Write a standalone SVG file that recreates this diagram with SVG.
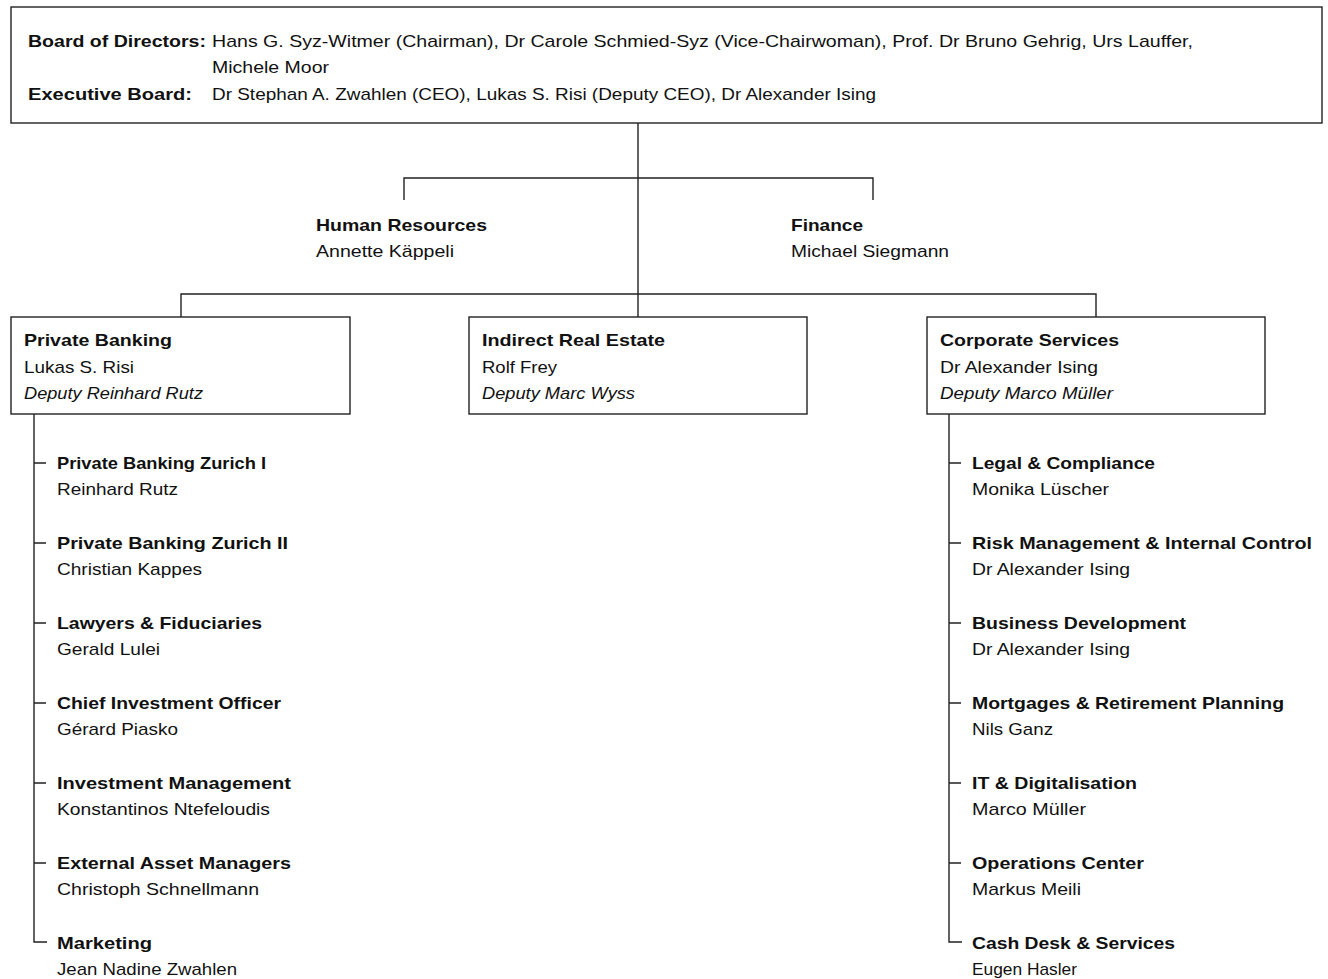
<svg xmlns="http://www.w3.org/2000/svg" width="1328" height="979" viewBox="0 0 1328 979">
<style>
text{font-family:"Liberation Sans",Arial,sans-serif;font-size:17px;fill:#111}
.b{font-weight:bold}
.i{font-style:italic}
.box{fill:#fff;stroke:#222;stroke-width:1.4}
.ln{fill:none;stroke:#222;stroke-width:1.4}
</style>
<rect width="1328" height="979" fill="#fff"/>
<g id="connectors">
<path class="ln" d="M638 123V317M404 200V178H873V200M181 317V294H1096V317"/>
<path class="ln" d="M34 414V942H47M34 463H46M34 543H46M34 623H46M34 703H46M34 783H46M34 863H46"/>
<path class="ln" d="M949 414V942H962M949 463H961M949 543H961M949 623H961M949 703H961M949 783H961M949 863H961"/>
</g>
<g id="board">
<rect class="box" x="11" y="7" width="1311" height="116"/>
<text class="b" x="28" y="47" textLength="178" lengthAdjust="spacingAndGlyphs">Board of Directors:</text>
<text x="212" y="47" textLength="981" lengthAdjust="spacingAndGlyphs">Hans G. Syz-Witmer (Chairman), Dr Carole Schmied-Syz (Vice-Chairwoman), Prof. Dr Bruno Gehrig, Urs Lauffer,</text>
<text x="212" y="73" textLength="117" lengthAdjust="spacingAndGlyphs">Michele Moor</text>
<text class="b" x="28" y="100" textLength="164" lengthAdjust="spacingAndGlyphs">Executive Board:</text>
<text x="212" y="100" textLength="664" lengthAdjust="spacingAndGlyphs">Dr Stephan A. Zwahlen (CEO), Lukas S. Risi (Deputy CEO), Dr Alexander Ising</text>
</g>
<g id="hr">
<text class="b" x="316" y="231" textLength="171" lengthAdjust="spacingAndGlyphs">Human Resources</text>
<text x="316" y="257" textLength="138" lengthAdjust="spacingAndGlyphs">Annette Käppeli</text>
</g>
<g id="finance">
<text class="b" x="791" y="231" textLength="72" lengthAdjust="spacingAndGlyphs">Finance</text>
<text x="791" y="257" textLength="158" lengthAdjust="spacingAndGlyphs">Michael Siegmann</text>
</g>
<g id="private-banking">
<rect class="box" x="11" y="317" width="339" height="97"/>
<text class="b" x="24" y="346" textLength="148" lengthAdjust="spacingAndGlyphs">Private Banking</text>
<text x="24" y="373" textLength="110" lengthAdjust="spacingAndGlyphs">Lukas S. Risi</text>
<text class="i" x="24" y="399" textLength="179" lengthAdjust="spacingAndGlyphs">Deputy Reinhard Rutz</text>
</g>
<g id="indirect-real-estate">
<rect class="box" x="469" y="317" width="338" height="97"/>
<text class="b" x="482" y="346" textLength="183" lengthAdjust="spacingAndGlyphs">Indirect Real Estate</text>
<text x="482" y="373" textLength="75" lengthAdjust="spacingAndGlyphs">Rolf Frey</text>
<text class="i" x="482" y="399" textLength="153" lengthAdjust="spacingAndGlyphs">Deputy Marc Wyss</text>
</g>
<g id="corporate-services">
<rect class="box" x="927" y="317" width="338" height="97"/>
<text class="b" x="940" y="346" textLength="179" lengthAdjust="spacingAndGlyphs">Corporate Services</text>
<text x="940" y="373" textLength="158" lengthAdjust="spacingAndGlyphs">Dr Alexander Ising</text>
<text class="i" x="940" y="399" textLength="173" lengthAdjust="spacingAndGlyphs">Deputy Marco Müller</text>
</g>
<g id="pb-zurich-1"><text class="b" x="57" y="469" textLength="209" lengthAdjust="spacingAndGlyphs">Private Banking Zurich I</text><text x="57" y="495" textLength="121" lengthAdjust="spacingAndGlyphs">Reinhard Rutz</text></g>
<g id="pb-zurich-2"><text class="b" x="57" y="549" textLength="231" lengthAdjust="spacingAndGlyphs">Private Banking Zurich II</text><text x="57" y="575" textLength="145" lengthAdjust="spacingAndGlyphs">Christian Kappes</text></g>
<g id="lawyers"><text class="b" x="57" y="629" textLength="205" lengthAdjust="spacingAndGlyphs">Lawyers &amp; Fiduciaries</text><text x="57" y="655" textLength="103" lengthAdjust="spacingAndGlyphs">Gerald Lulei</text></g>
<g id="cio"><text class="b" x="57" y="709" textLength="224" lengthAdjust="spacingAndGlyphs">Chief Investment Officer</text><text x="57" y="735" textLength="121" lengthAdjust="spacingAndGlyphs">Gérard Piasko</text></g>
<g id="investment-mgmt"><text class="b" x="57" y="789" textLength="234" lengthAdjust="spacingAndGlyphs">Investment Management</text><text x="57" y="815" textLength="213" lengthAdjust="spacingAndGlyphs">Konstantinos Ntefeloudis</text></g>
<g id="eam"><text class="b" x="57" y="869" textLength="234" lengthAdjust="spacingAndGlyphs">External Asset Managers</text><text x="57" y="895" textLength="202" lengthAdjust="spacingAndGlyphs">Christoph Schnellmann</text></g>
<g id="marketing"><text class="b" x="57" y="949" textLength="95" lengthAdjust="spacingAndGlyphs">Marketing</text><text x="57" y="975" textLength="180" lengthAdjust="spacingAndGlyphs">Jean Nadine Zwahlen</text></g>
<g id="legal"><text class="b" x="972" y="469" textLength="183" lengthAdjust="spacingAndGlyphs">Legal &amp; Compliance</text><text x="972" y="495" textLength="137" lengthAdjust="spacingAndGlyphs">Monika Lüscher</text></g>
<g id="risk"><text class="b" x="972" y="549" textLength="340" lengthAdjust="spacingAndGlyphs">Risk Management &amp; Internal Control</text><text x="972" y="575" textLength="158" lengthAdjust="spacingAndGlyphs">Dr Alexander Ising</text></g>
<g id="bizdev"><text class="b" x="972" y="629" textLength="214" lengthAdjust="spacingAndGlyphs">Business Development</text><text x="972" y="655" textLength="158" lengthAdjust="spacingAndGlyphs">Dr Alexander Ising</text></g>
<g id="mortgages"><text class="b" x="972" y="709" textLength="312" lengthAdjust="spacingAndGlyphs">Mortgages &amp; Retirement Planning</text><text x="972" y="735" textLength="81" lengthAdjust="spacingAndGlyphs">Nils Ganz</text></g>
<g id="it"><text class="b" x="972" y="789" textLength="165" lengthAdjust="spacingAndGlyphs">IT &amp; Digitalisation</text><text x="972" y="815" textLength="114" lengthAdjust="spacingAndGlyphs">Marco Müller</text></g>
<g id="operations"><text class="b" x="972" y="869" textLength="172" lengthAdjust="spacingAndGlyphs">Operations Center</text><text x="972" y="895" textLength="109" lengthAdjust="spacingAndGlyphs">Markus Meili</text></g>
<g id="cash-desk"><text class="b" x="972" y="949" textLength="203" lengthAdjust="spacingAndGlyphs">Cash Desk &amp; Services</text><text x="972" y="975" textLength="105" lengthAdjust="spacingAndGlyphs">Eugen Hasler</text></g>
</svg>
